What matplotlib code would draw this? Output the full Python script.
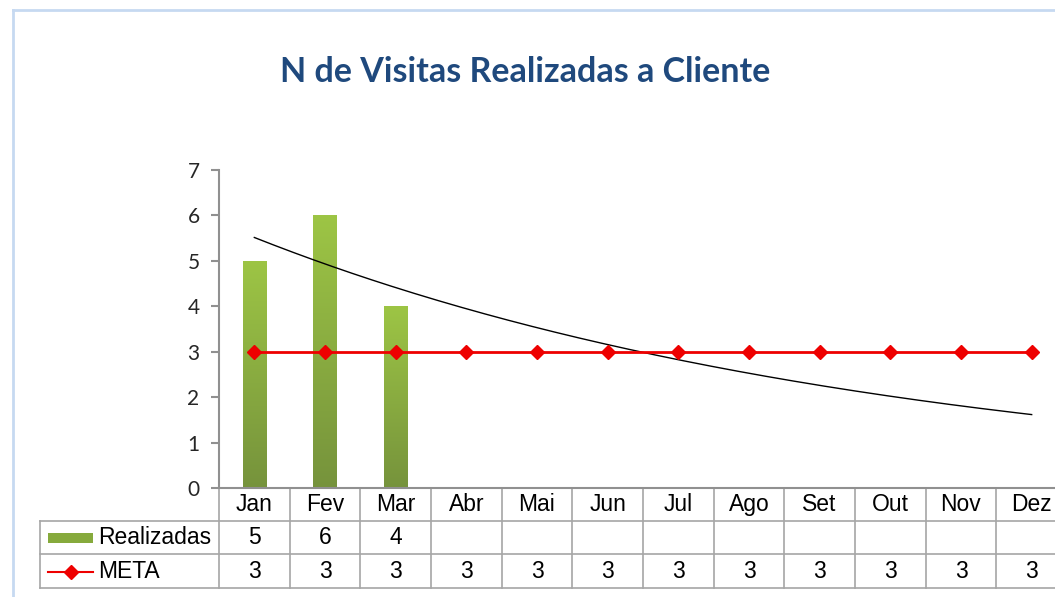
import numpy as np
import matplotlib.pyplot as plt
from matplotlib.transforms import blended_transform_factory
from matplotlib.lines import Line2D
from matplotlib.patches import Rectangle

months = ['Jan', 'Fev', 'Mar', 'Abr', 'Mai', 'Jun', 'Jul', 'Ago', 'Set', 'Out', 'Nov', 'Dez']
realizadas = [5, 6, 4]
meta = [3, 3, 3, 3, 3, 3, 3, 3, 3, 3, 3, 3]
title = 'N de Visitas Realizadas a Cliente'

W, H = 1055, 597
fig = plt.figure(figsize=(W / 100, H / 100), dpi=100)


def fy(py):
    return 1 - py / H


def fx(px):
    return px / W


# outer chart border (light blue)
fig.add_artist(Line2D([fx(13), fx(13)], [fy(10), 0], color='#c6d9f1', lw=2))
fig.add_artist(Line2D([fx(13), 1], [fy(10), fy(10)], color='#c6d9f1', lw=2))

fig.text(fx(525), fy(72), title, ha='center', va='center', fontsize=24.5,
         fontweight='bold', color='#1f497d', family='Lato')

ax = fig.add_axes([fx(219), fy(488), fx(1067) - fx(219), fy(170) - fy(488)])
x = np.arange(len(months))

# bars with vertical gradient
bar_w = 0.33
grad = np.linspace(0, 1, 256).reshape(-1, 1)
cmap = plt.matplotlib.colors.LinearSegmentedColormap.from_list('g', ['#76933c', '#9dc545'])
for i, v in enumerate(realizadas):
    r = Rectangle((x[i] - bar_w / 2, 0), bar_w, v, facecolor='none', edgecolor='none')
    ax.add_patch(r)
    im = ax.imshow(grad, extent=(x[i] - bar_w / 2, x[i] + bar_w / 2, 0, v), origin='lower',
                   cmap=cmap, aspect='auto', zorder=2)
    im.set_clip_path(r)

# exponential trendline fitted to Realizadas
xr = np.arange(1, len(realizadas) + 1)
k, b0 = np.polyfit(xr, np.log(realizadas), 1)
xt = np.linspace(1, len(months), 200)
ax.plot(xt - 1, np.exp(b0 + k * xt), color='black', lw=1, zorder=3)

ax.plot(x, meta, color='#ee0000', lw=2, marker='D', markersize=7, zorder=4)

ax.set_xlim(-0.5, len(months) - 0.5)
ax.set_ylim(0, 7)
ax.set_yticks(range(8))
ax.set_xticks([])
for s in ['top', 'right']:
    ax.spines[s].set_visible(False)
ax.spines['left'].set_color('#909090')
ax.spines['bottom'].set_color('#909090')
ax.spines['left'].set_linewidth(1.5)
ax.spines['bottom'].set_linewidth(1.5)
ax.tick_params(axis='y', length=6, color='#909090', width=1.5, labelsize=15, pad=8)
for t in ax.get_yticklabels():
    t.set_family('Lato')
    t.set_color('#262626')

# data table below
tr = blended_transform_factory(ax.transData, fig.transFigure)
grid_c = '#a6a6a6'
rows = [fy(488), fy(521), fy(554), fy(588)]
x_left = (41 - 255) / ((1032 - 255) / 11)
for yy in rows[1:]:
    ax.add_line(Line2D([x_left, len(months) - 0.5], [yy, yy], transform=tr, color=grid_c, lw=1.2, clip_on=False))
for xv in np.arange(-0.5, len(months), 1.0):
    ax.add_line(Line2D([xv, xv], [rows[0], rows[3]], transform=tr, color=grid_c, lw=1.2, clip_on=False))
ax.add_line(Line2D([x_left, x_left], [rows[1], rows[3]], transform=tr, color=grid_c, lw=1.2, clip_on=False))

tfont = dict(family='Liberation Sans', fontsize=16.5, color='black', transform=tr, clip_on=False)
cy = [(rows[i] + rows[i + 1]) / 2 for i in range(3)]
for i, m in enumerate(months):
    ax.text(i, cy[0], m, ha='center', va='center', **tfont)
for i, v in enumerate(realizadas):
    ax.text(i, cy[1], str(v), ha='center', va='center', **tfont)
for i, v in enumerate(meta):
    ax.text(i, cy[2], str(v), ha='center', va='center', **tfont)

fig.add_artist(Rectangle((fx(48), fy(543)), fx(93) - fx(48), fy(533) - fy(543),
                         facecolor='#86aa3c', edgecolor='none'))
fig.add_artist(Line2D([fx(48), fx(93)], [fy(572), fy(572)], color='#ee0000', lw=1.5))
fig.add_artist(Line2D([fx(70.5)], [fy(572)], color='#ee0000', marker='D', markersize=7, lw=0))
fig.text(fx(98), cy[1], 'Realizadas', ha='left', va='center', family='Liberation Sans', fontsize=16.5)
fig.text(fx(98), cy[2], 'META', ha='left', va='center', family='Liberation Sans', fontsize=16.5)

fig.savefig('out.png', dpi=100)
